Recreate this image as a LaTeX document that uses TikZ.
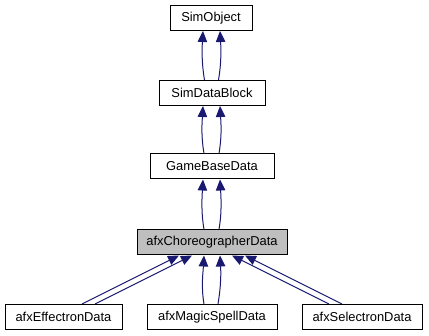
\documentclass[tikz,border=0pt]{standalone}
\usepackage{fontspec}
\setmainfont{Liberation Sans}
\usetikzlibrary{arrows.meta}
\definecolor{edgeblue}{HTML}{191970}
\definecolor{focusgray}{HTML}{BFBFBF}
\tikzset{
  classbox/.style={draw=black, line width=1pt, fill=white, minimum height=25pt,
    inner xsep=0pt, inner ysep=0pt, font=\fontsize{12.9}{15}\selectfont},
  focusbox/.style={classbox, fill=focusgray},
  inherit/.style={draw=edgeblue, line width=1pt,
    -{Triangle[length=11pt,width=9.5pt]}},
}
\begin{document}
\begin{tikzpicture}[x=1pt, y=-1pt]
  \useasboundingbox (0,0) rectangle (429,336);

  % class boxes
  \node[classbox, minimum width=82pt]  (so)  at (211,18)    {SimObject};
  \node[classbox, minimum width=106pt] (sdb) at (212,93)    {SimDataBlock};
  \node[classbox, minimum width=124pt] (gbd) at (212,166.5) {GameBaseData};
  \node[focusbox, minimum width=150pt] (cd)  at (212,242.5) {afxChoreographerData};
  \node[classbox, minimum width=117pt] (ed)  at (63.5,317)  {afxEffectronData};
  \node[classbox, minimum width=130pt] (msd) at (212,317)   {afxMagicSpellData};
  \node[classbox, minimum width=120pt] (sed) at (362,317)   {afxSelectronData};

  % inheritance edges, each drawn twice
  \draw[inherit] ([xshift=-7.5pt]sdb.north) .. controls +(-3,-18) and +(-1,18) .. ([xshift=-8pt]so.south);
  \draw[inherit] ([xshift=6.5pt]sdb.north)  .. controls +(3,-18) and +(1,18)  .. ([xshift=9pt]so.south);

  \draw[inherit] ([xshift=-8pt]gbd.north) .. controls +(-3,-18) and +(-1,18) .. ([xshift=-9pt]sdb.south);
  \draw[inherit] ([xshift=7pt]gbd.north)  .. controls +(3,-18) and +(1,18)  .. ([xshift=8pt]sdb.south);

  \draw[inherit] ([xshift=-8pt]cd.north) .. controls +(-3,-18) and +(-1,18) .. ([xshift=-9pt]gbd.south);
  \draw[inherit] ([xshift=7pt]cd.north)  .. controls +(3,-18) and +(1,18)  .. ([xshift=8pt]gbd.south);

  \draw[inherit] ([xshift=-8pt]msd.north) .. controls +(-3,-18) and +(-1,18) .. ([xshift=-8pt]cd.south);
  \draw[inherit] ([xshift=6pt]msd.north)  .. controls +(3,-18) and +(1,18)  .. ([xshift=8pt]cd.south);

  \draw[inherit] ([xshift=18.5pt]ed.north) -- ([xshift=-33pt]cd.south);
  \draw[inherit] ([xshift=31.5pt]ed.north) -- ([xshift=-20pt]cd.south);

  \draw[inherit] ([xshift=-33pt]sed.north) -- ([xshift=20pt]cd.south);
  \draw[inherit] ([xshift=-20pt]sed.north) -- ([xshift=33pt]cd.south);
\end{tikzpicture}
\end{document}
